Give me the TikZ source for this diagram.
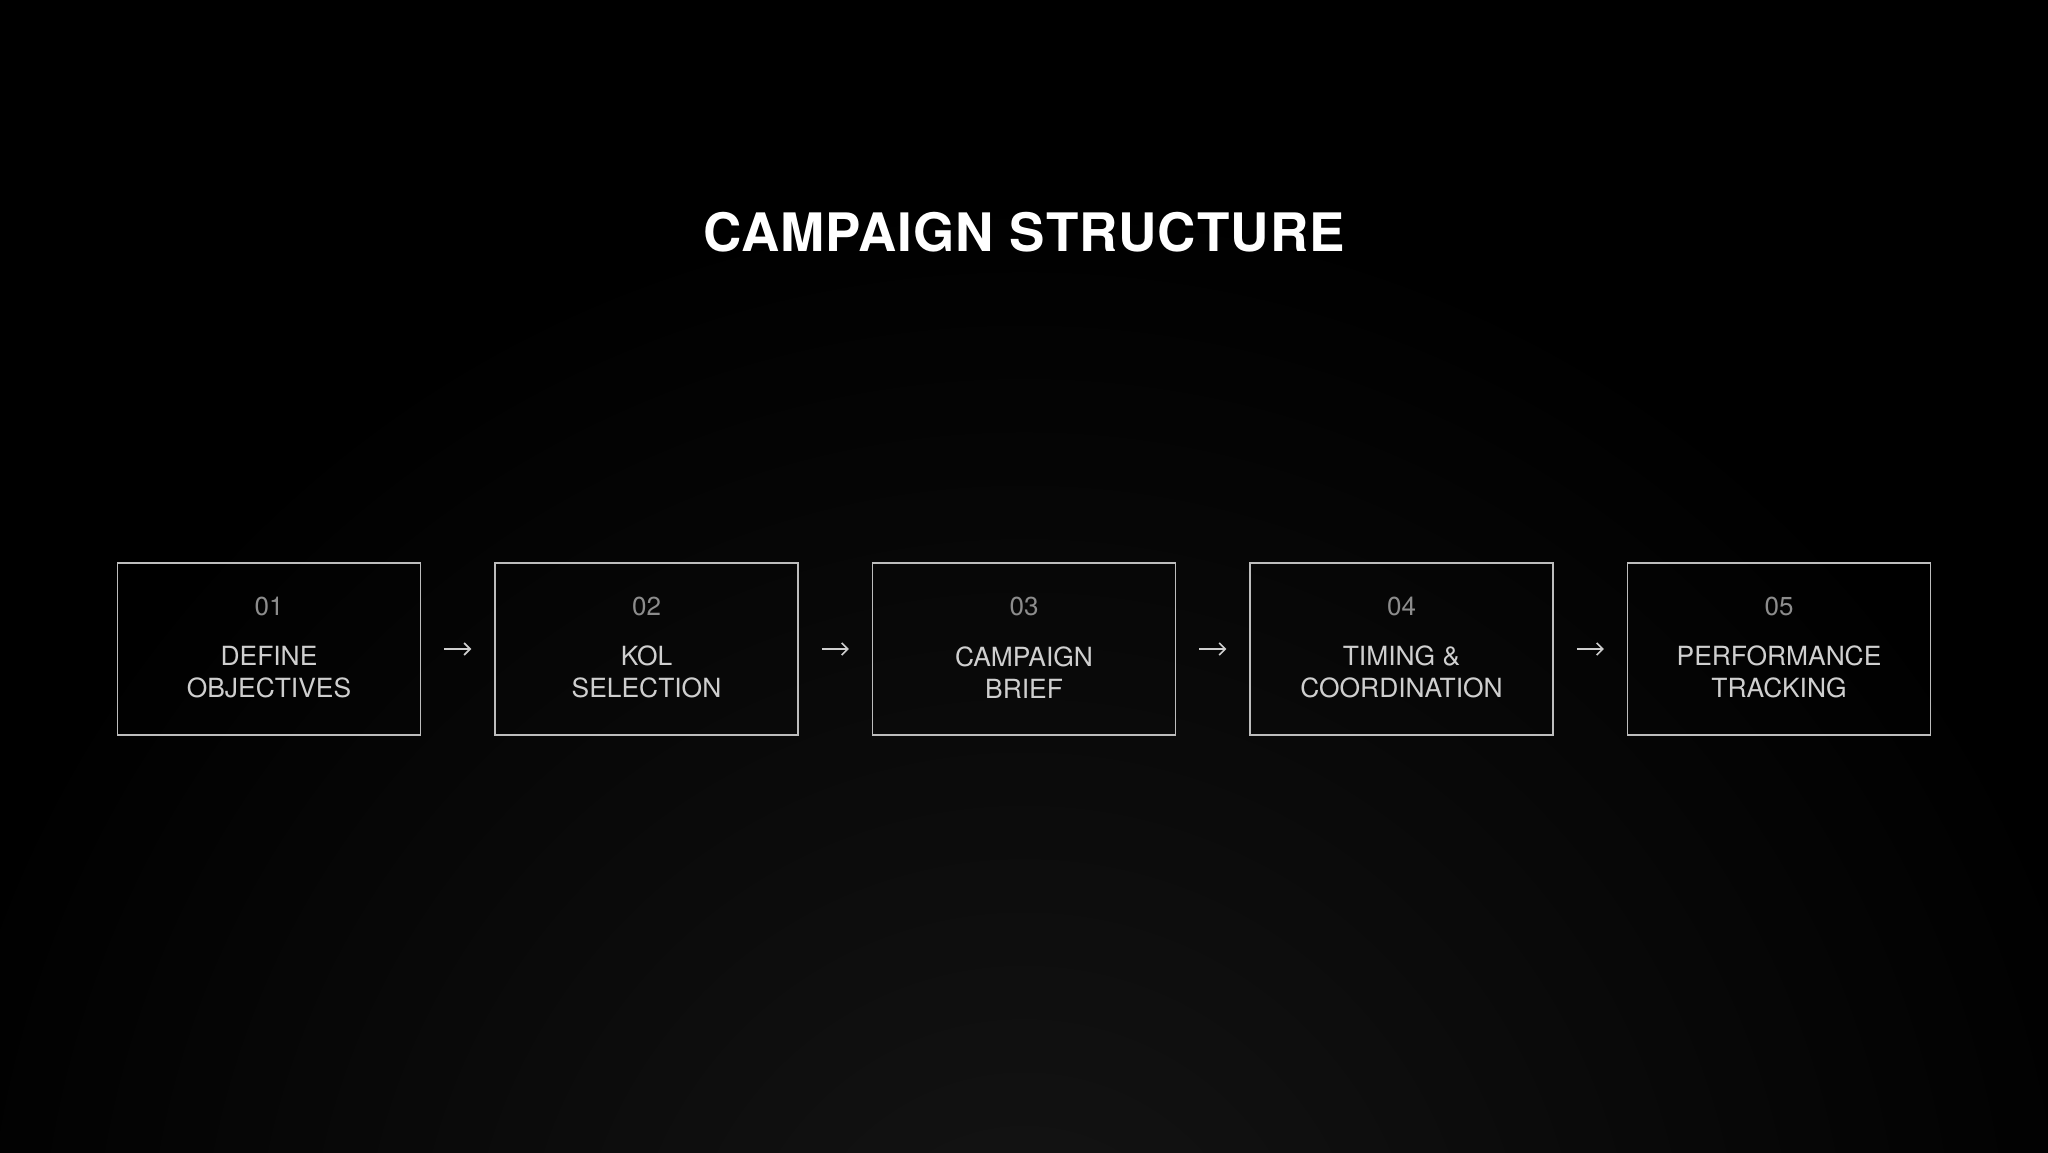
\documentclass[tikz,border=0pt]{standalone}
\usepackage{fontspec}
\setmainfont{TeX Gyre Heros}
\usetikzlibrary{arrows.meta,positioning}
\definecolor{boxline}{HTML}{BDBDBD}
\definecolor{labeltext}{HTML}{CFCFCF}
\definecolor{numtext}{HTML}{8C8C8C}
\definecolor{glow}{HTML}{151515}
\tikzstyle{stepbox}=[draw=boxline,line width=0.75pt,minimum width=151.5pt,minimum height=86pt,inner sep=0pt]
\tikzstyle{stepnum}=[text=numtext,inner sep=0pt,font=\fontsize{13}{16}\selectfont]
\tikzstyle{steplabel}=[text=labeltext,inner sep=0pt,align=center,font=\fontsize{13.2}{16}\selectfont]
\tikzstyle{flow}=[draw=labeltext,line width=0.8pt,-{Straight Barb[length=3pt,width=6pt]},shorten <=11.5pt,shorten >=11.5pt]

\begin{document}
\begin{tikzpicture}[x=1pt,y=1pt]
    % Background, with a faint glow from below
    \useasboundingbox (0,0) rectangle (1024,576);
    \fill[black] (0,0) rectangle (1024,576);
    \begin{scope}
        \clip (0,0) rectangle (1024,576);
        \shade[inner color=glow,outer color=black] (512,-80) circle (560);
    \end{scope}

    % Title
    \node[text=white,font=\bfseries\fontsize{26.5}{32}\selectfont\addfontfeatures{LetterSpace=2}] (title) at (512,460) {CAMPAIGN STRUCTURE};

    % First we draw the steps
    \foreach \pos/\name/\num/\lbl in {{134.5/s1/01/{DEFINE\\OBJECTIVES}}, {323.25/s2/02/{KOL\\SELECTION}}, {512/s3/03/{CAMPAIGN\\BRIEF}}, {700.75/s4/04/{TIMING \&\\COORDINATION}}, {889.5/s5/05/{PERFORMANCE\\TRACKING}}}
    {
        \node[stepbox] (\name) at (\pos,251.5) {};
        \node[stepnum] (\name n) at ([yshift=-22pt]\name.north) {\num};
        \node[steplabel] (\name l) at ([yshift=-55pt]\name.north) {\lbl};
    }

    % Connect steps with arrows
    \foreach \source/ \dest in {s1/s2, s2/s3, s3/s4, s4/s5}
        \path[flow] (\source) -- (\dest);

\end{tikzpicture}
\end{document}
